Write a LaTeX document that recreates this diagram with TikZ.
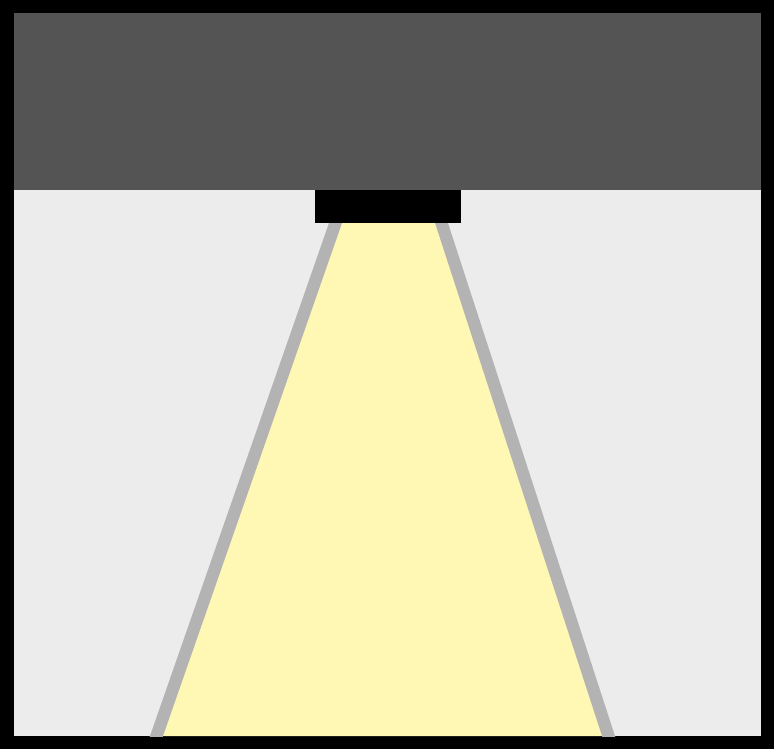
\documentclass[tikz,border=0pt]{standalone}
\usetikzlibrary{calc}
\definecolor{ceil}{HTML}{545454}
\definecolor{room}{HTML}{ECECEC}
\definecolor{beam}{HTML}{FFF7B4}
\definecolor{edge}{HTML}{B3B3B3}
\begin{document}
\begin{tikzpicture}[x=1pt,y=-1pt]
\useasboundingbox (0,0) rectangle (774,749);
\fill[black] (0,0) rectangle (774,749);
\fill[room] (14,13) rectangle (761,736);
\fill[ceil] (14,13) rectangle (761,189.5);
\begin{scope}
\clip (14,189.5) rectangle (761,736);
\coordinate (lt) at (335.5,223);
\coordinate (lb) at (156.5,736);
\coordinate (rt) at (441.5,223);
\coordinate (rb) at (608.5,736);
\fill[beam] (lt) -- (rt) -- (rb) -- (lb) -- cycle;
\draw[edge,line width=12.3pt] ($(lt)!-0.05!(lb)$) -- ($(lt)!1.05!(lb)$);
\draw[edge,line width=12.3pt] ($(rt)!-0.05!(rb)$) -- ($(rt)!1.05!(rb)$);
\end{scope}
\fill[black] (315,189.5) rectangle (460.7,223.3);
\end{tikzpicture}
\end{document}
